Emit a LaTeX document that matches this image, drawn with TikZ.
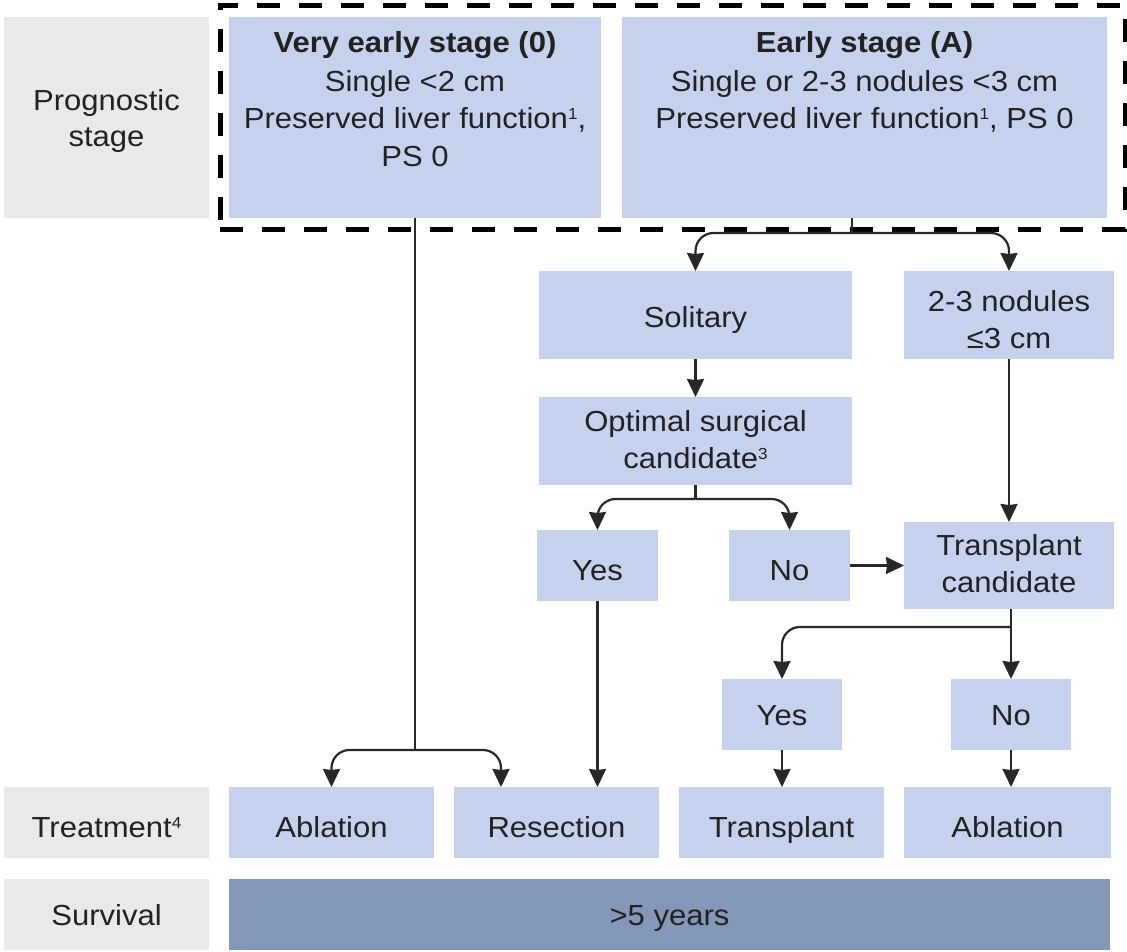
\documentclass[tikz,border=0pt]{standalone}
\usepackage{fontspec}
\setmainfont{Liberation Sans}[FakeStretch=1.07]
\usetikzlibrary{arrows.meta,calc}

\definecolor{boxblue}{RGB}{198,209,238}
\definecolor{rowgray}{RGB}{232,233,235}
\definecolor{darkblue}{RGB}{132,151,184}
\definecolor{ink}{RGB}{34,34,34}
\definecolor{wire}{RGB}{40,40,40}

% small raised footnote marks
\newcommand{\fnmark}[1]{\raisebox{9pt}{\fontsize{16}{16}\selectfont #1}}

\begin{document}
\begin{tikzpicture}[x=1pt,y=-1pt,
  cell/.style={fill=boxblue, draw=none, inner sep=0pt, outer sep=0pt, anchor=north west},
  rowhead/.style={cell, fill=rowgray},
  survcell/.style={cell, fill=darkblue},
  txt/.style={inner sep=0pt, text=ink, anchor=base, font=\fontsize{29}{37}\selectfont},
  btxt/.style={txt, font=\fontsize{29}{37}\selectfont\bfseries},
  wireline/.style={draw=wire, line width=2.2pt},
  arr/.style={wireline, rounded corners=18pt, -{Stealth[length=18pt,width=17pt,inset=1pt]}},
  stagegroup/.style={draw=black, line width=5pt, dash pattern=on 23pt off 19pt,
                     inner sep=0pt, outer sep=0pt, anchor=north west}
]
\useasboundingbox[fill=white] (0,0) rectangle (1127,951);

% ---------- row headers ----------
\node[rowhead, minimum width=205pt, minimum height=201pt] (pg) at (4,17) {};
\node[txt] (pg1) at (106.5,110) {Prognostic};
\node[txt] (pg2) at (106.5,146) {stage};

\node[rowhead, minimum width=205pt, minimum height=71pt] (tr) at (4,787) {};
\node[txt] (trt) at (106.5,837) {Treatment\fnmark{4}};

\node[rowhead, minimum width=205pt, minimum height=71pt] (sv) at (4,879) {};
\node[txt] (svt) at (106.5,925) {Survival};

% ---------- prognostic stages ----------
\node[stagegroup, minimum width=905pt, minimum height=224pt] (grp) at (220,5) {};

\node[cell, minimum width=372pt, minimum height=201pt] (ve) at (229,17) {};
\node[btxt] (ve1) at (415,52) {Very early stage (0)};
\node[txt] (ve2) at (415,91) {Single <2 cm};
\node[txt] (ve3) at (415,128) {Preserved liver function\fnmark{1},};
\node[txt] (ve4) at (415,166) {PS 0};

\node[cell, minimum width=485pt, minimum height=201pt] (ea) at (622,17) {};
\node[btxt] (ea1) at (864.5,52) {Early stage (A)};
\node[txt] (ea2) at (864.5,91) {Single or 2-3 nodules <3 cm};
\node[txt] (ea3) at (864.5,128) {Preserved liver function\fnmark{1}, PS 0};

% ---------- decision boxes ----------
\node[cell, minimum width=313pt, minimum height=88pt] (sol) at (539,271) {};
\node[txt] (solt) at (695.5,327) {Solitary};

\node[cell, minimum width=210pt, minimum height=88pt] (nod) at (904,271) {};
\node[txt] (nod1) at (1009,311) {2-3 nodules};
\node[txt] (nod2) at (1009,348) {≤3 cm};

\node[cell, minimum width=313pt, minimum height=88pt] (opt) at (539,397) {};
\node[txt] (opt1) at (695.5,431) {Optimal surgical};
\node[txt] (opt2) at (695.5,468) {candidate\fnmark{3}};

\node[cell, minimum width=121pt, minimum height=71pt] (yes) at (537,530) {};
\node[txt] (yest) at (597.5,580) {Yes};

\node[cell, minimum width=121pt, minimum height=71pt] (no) at (729,530) {};
\node[txt] (not) at (789.5,580) {No};

\node[cell, minimum width=210pt, minimum height=87pt] (tc) at (904,522) {};
\node[txt] (tc1) at (1009,555) {Transplant};
\node[txt] (tc2) at (1009,592) {candidate};

\node[cell, minimum width=120pt, minimum height=71pt] (yes2) at (722,679) {};
\node[txt] (yes2t) at (782,725) {Yes};

\node[cell, minimum width=120pt, minimum height=71pt] (no2) at (951,679) {};
\node[txt] (no2t) at (1011,725) {No};

% ---------- treatments ----------
\node[cell, minimum width=205pt, minimum height=71pt] (abl1) at (229,787) {};
\node[txt] (abl1t) at (331.5,837) {Ablation};

\node[cell, minimum width=205pt, minimum height=71pt] (res) at (454,787) {};
\node[txt] (rest) at (556.5,837) {Resection};

\node[cell, minimum width=205pt, minimum height=71pt] (tp) at (679,787) {};
\node[txt] (tpt) at (781.5,837) {Transplant};

\node[cell, minimum width=207pt, minimum height=71pt] (abl2) at (904,787) {};
\node[txt] (abl2t) at (1007.5,837) {Ablation};

% ---------- survival ----------
\node[survcell, minimum width=881pt, minimum height=71pt] (yrs) at (229,879) {};
\node[txt] (yrst) at (669.5,925) {>5 years};

% ---------- connectors ----------
% very early stage straight to ablation / resection
\coordinate (vsplit) at (415,750);
\draw[wireline] (ve.south) -- (vsplit);
\draw[arr] (vsplit) -| (abl1.north);
\draw[arr] (vsplit) -| ([xshift=-55.5pt]res.north);

% early stage branches
\coordinate (esplit) at (852,233);
\draw[wireline] (ea.south -| esplit) -- (esplit);
\draw[arr] (esplit) -| (sol.north);
\draw[arr] (esplit) -| (nod.north);

\draw[arr] (sol.south) -- (opt.north);

\coordinate (osplit) at (695.5,499);
\draw[wireline] (opt.south) -- (osplit);
\draw[arr] (osplit) -| (yes.north);
\draw[arr] (osplit) -| (no.north);

\draw[arr] (no.east) -- (tc.west);
\draw[arr] (nod.south) -- (tc.north);

\coordinate (tsplit) at (1011,627);
\draw[wireline] (tc.south -| tsplit) -- (tsplit);
\draw[arr] (tsplit) -| (yes2.north);
\draw[arr] (tsplit) -- (no2.north);

\draw[arr] (yes.south) -- (yes.south |- res.north);
\draw[arr] (yes2.south) -- (yes2.south |- tp.north);
\draw[arr] (no2.south) -- (no2.south |- abl2.north);
\end{tikzpicture}
\end{document}
